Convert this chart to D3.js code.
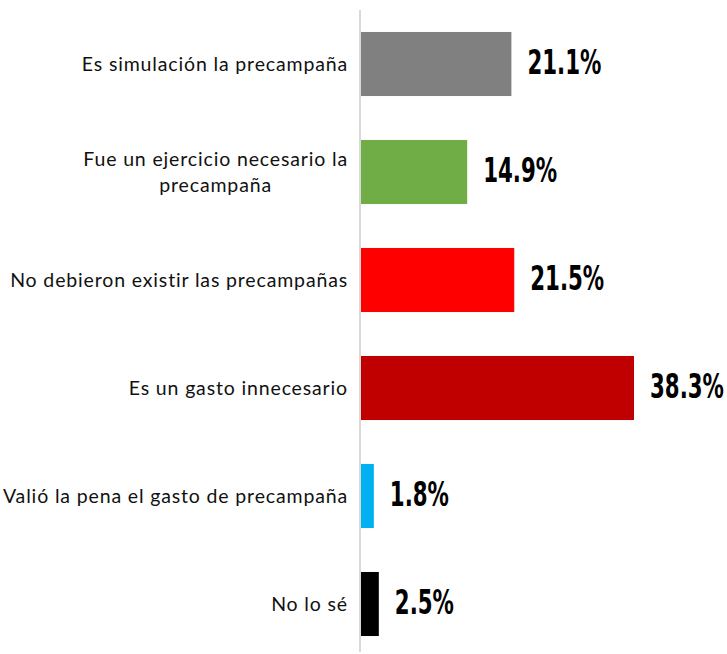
<!DOCTYPE html>
<html><head><meta charset="utf-8">
<script src="https://cdn.jsdelivr.net/npm/d3@7"></script>
<style>body{margin:0;background:#fff}</style>
</head><body>
<svg id="c" width="727" height="654"></svg>
<script>
const categories = ["Es simulación la precampaña","Fue un ejercicio necesario la precampaña","No debieron existir las precampañas","Es un gasto innecesario","Valió la pena el gasto de precampaña","No lo sé"];
const labelLines = [["Es simulación la precampaña"],["Fue un ejercicio necesario la","precampaña"],["No debieron existir las precampañas"],["Es un gasto innecesario"],["Valió la pena el gasto de precampaña"],["No lo sé"]];
const values = [21.1,14.9,21.5,38.3,1.8,2.5];
const colors = ["#808080","#70ad47","#ff0000","#c00000","#00b0f0","#000000"];

const svg = d3.select("#c");
const x0 = 360;
const x = d3.scaleLinear().domain([0,38.3]).range([x0+1, x0+274]);
const y = d3.scaleBand().domain(categories).range([10,658]).paddingInner(0.407).paddingOuter(0.2035);

svg.append("line").attr("x1",x0).attr("x2",x0).attr("y1",10).attr("y2",652)
  .attr("stroke","#d9d9d9").attr("stroke-width",2);

svg.selectAll("rect.bar").data(categories).join("rect").attr("class","bar")
  .attr("x",x(0)).attr("y",d=>y(d)).attr("height",y.bandwidth())
  .attr("width",(d,i)=>x(values[i])-x(0)).attr("fill",(d,i)=>colors[i]);

const valFont = "'DejaVu Sans Condensed', 'DejaVu Sans', sans-serif";
const probe = svg.append("text").attr("font-family",valFont).attr("font-weight","bold")
  .attr("font-size",34).attr("font-stretch","condensed").text("21.1%");
const sx = 74 / probe.node().getComputedTextLength();
probe.remove();

svg.selectAll("text.val").data(categories).join("text").attr("class","val")
  .attr("transform",(d,i)=>`translate(${x(values[i])+16},${y(d)+y.bandwidth()/2+10}) scale(${sx},1)`)
  .attr("font-family",valFont).attr("font-stretch","condensed")
  .attr("font-weight","bold").attr("font-size",34).attr("fill","#000")
  .text((d,i)=>values[i].toFixed(1)+"%");

categories.forEach((c,i)=>{
  const lines = labelLines[i];
  const cy = y(c)+y.bandwidth()/2;
  const lh = 26;
  const g = svg.append("g");
  const base = cy - (lines.length-1)*lh/2 + 7;
  const t0 = g.append("text").attr("x",348).attr("text-anchor","end")
    .attr("font-family","Lato, sans-serif").attr("font-size",19.5).attr("letter-spacing","0.85px").attr("fill","#111")
    .attr("y", base).text(lines[0]);
  if(lines.length>1){
    const w = t0.node().getComputedTextLength();
    const cx = 348 - w/2;
    g.append("text").attr("x",cx).attr("text-anchor","middle")
      .attr("font-family","Lato, sans-serif").attr("font-size",19.5).attr("letter-spacing","0.85px").attr("fill","#111")
      .attr("y", base + lh).text(lines[1]);
  }
});
</script>
</body></html>
